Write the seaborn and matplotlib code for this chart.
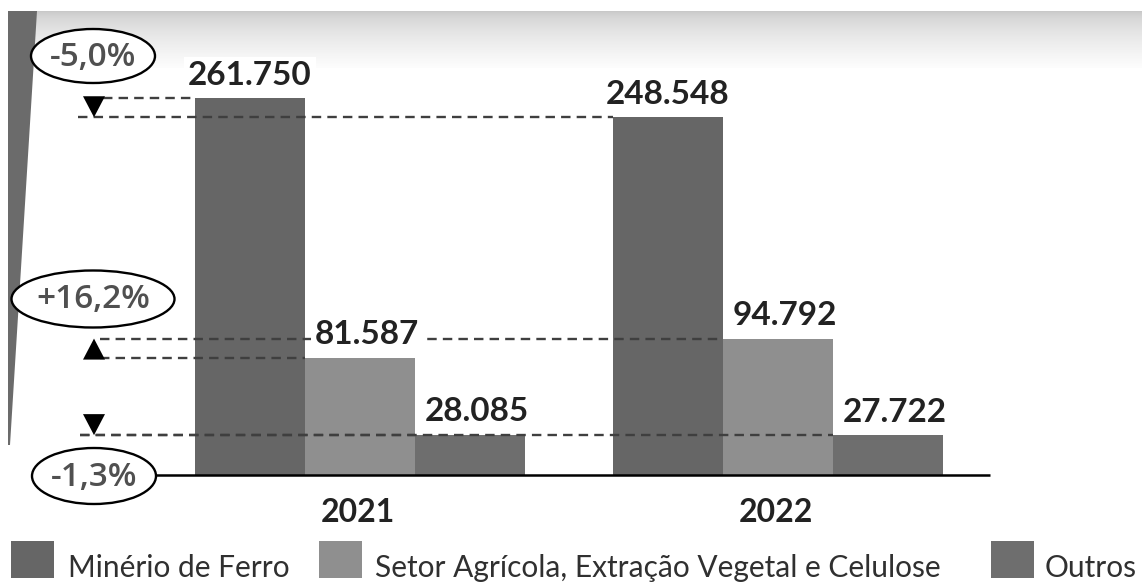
import numpy as np
import pandas as pd
import matplotlib
matplotlib.use("Agg")
import matplotlib.pyplot as plt
import seaborn as sns
from matplotlib.patches import Ellipse, Polygon, Rectangle
from matplotlib.transforms import blended_transform_factory

# --- data -------------------------------------------------------------
anos = ["2021", "2022"]
setores = ["Minério de Ferro", "Setor Agrícola, Extração Vegetal e Celulose", "Outros"]
minerio = [261750, 248548]
agricola = [81587, 94792]
outros = [28085, 27722]
rotulos_minerio = ["261.750", "248.548"]
rotulos_agricola = ["81.587", "94.792"]
rotulos_outros = ["28.085", "27.722"]
variacoes = ["-5,0%", "+16,2%", "-1,3%"]
cores = ["#666666", "#8f8f8f", "#6e6e6e"]

# --- canvas -----------------------------------------------------------
W, H = 1142, 583
sns.set_theme(style="white")
plt.rcParams["font.family"] = ["Lato", "DejaVu Sans"]

df = pd.DataFrame({
    "ano": anos * 3,
    "setor": np.repeat(setores, 2),
    "valor": minerio + agricola + outros,
})

fig = plt.figure(figsize=(W / 100, H / 100), dpi=100)
ax = fig.add_axes([0, 0, 1, 1])

XLIM = (-0.861, 1.871)
YLIM = (-75000, 330000)


def fx(px):
    return px / W


def fy(py):
    return 1 - py / H


def dx(px):
    return XLIM[0] + px / W * (XLIM[1] - XLIM[0])


def dh(npx):
    return npx / H * (YLIM[1] - YLIM[0])


def dw(npx):
    return npx / W * (XLIM[1] - XLIM[0])


# background: soft grey band along the top and the slanted stripe on the left
grad = (np.linspace(0, 1, 80) ** 0.6 * 0.21 + 0.78).reshape(-1, 1)
ax.imshow(grad, cmap="gray", vmin=0, vmax=1, extent=(fx(8), 1, fy(68), fy(11)),
          transform=ax.transAxes, aspect="auto", zorder=0, interpolation="bicubic")
ax.add_patch(Polygon([(fx(8), fy(11)), (fx(37), fy(11)), (fx(10), fy(445)), (fx(8), fy(445))],
                     closed=True, transform=ax.transAxes, facecolor="#6b6b6b",
                     edgecolor="none", zorder=1))

sns.barplot(data=df, x="ano", y="valor", hue="setor", order=anos, hue_order=setores,
            palette=cores, width=0.79, saturation=1, legend=False, ax=ax,
            linewidth=0, zorder=2)

ax.set_xlim(*XLIM)
ax.set_ylim(*YLIM)
ax.set_axis_off()

# baseline
ax.plot([dx(155), dx(990)], [0, 0], color="black", lw=1.8, zorder=4,
        solid_capstyle="butt")

# value labels
series = [minerio, agricola, outros]
rotulos = [rotulos_minerio, rotulos_agricola, rotulos_outros]
desloc = [0, 5, 5]
for cont, labs, off in zip(ax.containers, rotulos, desloc):
    for bar, lab in zip(cont, labs):
        ax.annotate(lab, xy=(bar.get_x() + bar.get_width() / 2, bar.get_height()),
                    xytext=(off, 9.5), textcoords="offset points", ha="center",
                    va="baseline", fontsize=24, fontweight="bold", color="#222222",
                    zorder=6,
                    bbox=dict(boxstyle="square,pad=0.12", fc="white", ec="none"))

# dashed guides and change arrows
inicio = [(103, 78), (100, 100), (80, 80)]
for cont, vals, (x_old, x_new) in zip(ax.containers, series, inicio):
    old, new = vals
    b_old, b_new = cont[0], cont[1]
    ax.plot([dx(x_old), b_old.get_x()], [old, old], color="#3f3f3f", lw=1.7,
            ls=(0, (4, 2.6)), zorder=5)
    ax.plot([dx(x_new), b_new.get_x()], [new, new], color="#3f3f3f", lw=1.7,
            ls=(0, (4, 2.6)), zorder=5)
    xc = dx(94)
    half = dw(22) / 2
    h = dh(21)
    base = new + h if new < old else new - h
    ax.add_patch(Polygon([(xc - half, base), (xc + half, base), (xc, new)],
                         closed=True, facecolor="black", edgecolor="none", zorder=6))

# percentage badges
badges = [((93, 56), 124, 54), ((93, 299), 163, 57), ((94, 476), 124, 56)]
for ((cx, cy), ew, eh), txt in zip(badges, variacoes):
    ax.add_patch(Ellipse((fx(cx), fy(cy)), fx(ew), eh / H, transform=ax.transAxes,
                         facecolor="white", edgecolor="black", lw=1.7, zorder=7))
    ax.text(fx(cx), fy(cy + 1), txt, transform=ax.transAxes, ha="center",
            va="center", fontsize=24, fontweight="semibold", color="#505050",
            family=["Open Sans", "DejaVu Sans"], zorder=8)

# year labels
tr = blended_transform_factory(ax.transData, ax.transAxes)
for i, ano in enumerate(anos):
    ax.text(i - 0.005, fy(522), ano, transform=tr, ha="center", va="baseline",
            fontsize=23, fontweight="bold", color="#222222")

# legend
leg_pos = [(11, 68), (319, 375), (991, 1045)]
for (sx, tx), nome, cor in zip(leg_pos, setores, cores):
    ax.add_patch(Rectangle((fx(sx), fy(578)), fx(43), 37 / H, transform=ax.transAxes,
                           facecolor=cor, edgecolor="none", zorder=3))
    ax.text(fx(tx), fy(577), nome, transform=ax.transAxes, ha="left",
            va="baseline", fontsize=21.5, color="#303030")

fig.savefig("out.png", dpi=100, facecolor="white")
